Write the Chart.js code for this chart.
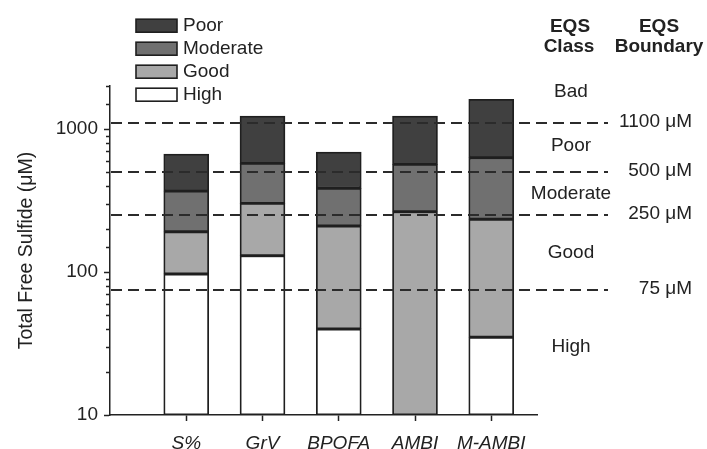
<!DOCTYPE html>
<html>
<head>
<meta charset="utf-8">
<script src="https://cdn.jsdelivr.net/npm/chart.js@4/dist/chart.umd.min.js"></script>
<style>
  html, body { margin: 0; padding: 0; background: #fff; }
  #wrap { width: 707px; height: 449px; }
</style>
</head>
<body>
<div id="wrap"><canvas id="chart" width="707" height="449"></canvas></div>
<script>
// Sulfide thresholds implied by each benthic index class (μM)
const categories = ['S%', 'GrV', 'BPOFA', 'AMBI', 'M-AMBI'];

// Upper bound of each class segment for every index (null = class not reached)
const highTop     = [97, 130, 40, null, 35];
const goodTop     = [191, 302, 210, 264, 234];
const moderateTop = [368, 575, 385, 566, 630];
const poorTop     = [668, 1233, 690, 1233, 1614];

// EQS boundaries and class names
const boundaryValues = [1100, 500, 250, 75];
const boundaryLabels = ['1100 μM', '500 μM', '250 μM', '75 μM'];
const eqsClasses     = ['Bad', 'Poor', 'Moderate', 'Good', 'High'];
const eqsClassAt     = [1820, 770, 354, 137, 30];

const AXIS_MIN = 10;
const AXIS_MAX = 2000;

const FONT = "'Liberation Sans', Arial, sans-serif";
const INK = '#222';
const EDGE = '#1f1f1f';

const classStyle = {
  High:     '#ffffff',
  Good:     '#a8a8a8',
  Moderate: '#707070',
  Poor:     '#404040'
};

// Build floating [low, high] bars from the stacked class bounds
function segment(lows, highs) {
  return categories.map((c, i) => {
    const hi = highs[i];
    if (hi == null) return { x: i + 1, y: null };
    const lo = lows ? (lows[i] == null ? AXIS_MIN : lows[i]) : AXIS_MIN;
    return { x: i + 1, y: [lo, hi] };
  });
}

function mkDataset(label, data) {
  return {
    label,
    data,
    backgroundColor: classStyle[label],
    borderColor: EDGE,
    borderWidth: 1.8,
    borderSkipped: false,
    barThickness: 45,
    grouped: false
  };
}

const datasets = [
  mkDataset('High', segment(null, highTop)),
  mkDataset('Good', segment(highTop, goodTop)),
  mkDataset('Moderate', segment(goodTop, moderateTop)),
  mkDataset('Poor', segment(moderateTop, poorTop))
];

const isDecade = v => Math.abs(Math.log10(v) - Math.round(Math.log10(v))) < 1e-9;

// Dashed EQS boundaries, minor ticks, legend and right-hand annotations
const eqsOverlay = {
  id: 'eqsOverlay',
  afterDatasetsDraw(chart) {
    const { ctx, chartArea, scales: { y } } = chart;
    ctx.save();
    ctx.strokeStyle = '#2b2b2b';
    ctx.lineWidth = 2;
    ctx.setLineDash([11, 6]);
    boundaryValues.forEach(v => {
      const py = Math.round(y.getPixelForValue(v));
      ctx.beginPath();
      ctx.moveTo(chartArea.left + 1, py);
      ctx.lineTo(608, py);
      ctx.stroke();
    });
    ctx.restore();
  },
  afterDraw(chart) {
    const { ctx, scales: { y } } = chart;
    ctx.save();

    // minor ticks on the log axis
    ctx.strokeStyle = INK;
    ctx.lineWidth = 1.5;
    y.ticks.forEach(t => {
      if (isDecade(t.value)) return;
      const py = Math.round(y.getPixelForValue(t.value)) + 0.5;
      ctx.beginPath();
      ctx.moveTo(y.right - 4, py);
      ctx.lineTo(y.right, py);
      ctx.stroke();
    });

    // legend, worst class on top
    const legendItems = datasets.slice().reverse();
    ctx.font = `19px ${FONT}`;
    ctx.textBaseline = 'middle';
    ctx.textAlign = 'left';
    legendItems.forEach((ds, i) => {
      const cy = 25.7 + i * 23;
      ctx.fillStyle = ds.backgroundColor;
      ctx.fillRect(136, cy - 6.5, 41, 13);
      ctx.strokeStyle = EDGE;
      ctx.lineWidth = 1.6;
      ctx.strokeRect(136, cy - 6.5, 41, 13);
      ctx.fillStyle = INK;
      ctx.fillText(ds.label, 183, cy);
    });

    // column headers
    ctx.font = `bold 19px ${FONT}`;
    ctx.textAlign = 'center';
    ctx.fillStyle = INK;
    ctx.fillText('EQS', 570, 27);
    ctx.fillText('Class', 569, 47);
    ctx.fillText('EQS', 659, 27);
    ctx.fillText('Boundary', 659, 47);

    // class names
    ctx.font = `19px ${FONT}`;
    eqsClasses.forEach((name, i) => {
      ctx.fillText(name, 571, y.getPixelForValue(eqsClassAt[i]));
    });

    // boundary values
    ctx.textAlign = 'right';
    boundaryLabels.forEach((lbl, i) => {
      ctx.fillText(lbl, 692, y.getPixelForValue(boundaryValues[i]) - 1);
    });

    ctx.restore();
  }
};

new Chart(document.getElementById('chart'), {
  type: 'bar',
  data: { datasets },
  options: {
    responsive: false,
    animation: false,
    devicePixelRatio: 1,
    layout: { padding: { top: 86, right: 170, left: 0, bottom: 0 } },
    plugins: {
      legend: { display: false },
      tooltip: { enabled: false }
    },
    scales: {
      x: {
        type: 'linear',
        min: 0,
        max: 5.6,
        offset: false,
        afterBuildTicks: s => { s.ticks = categories.map((c, i) => ({ value: i + 1 })); },
        afterFit: s => { s.height = 34; },
        ticks: {
          autoSkip: false,
          maxRotation: 0,
          padding: 11,
          color: INK,
          font: { family: FONT, size: 19, style: 'italic' },
          callback: v => categories[v - 1] ?? ''
        },
        grid: { drawOnChartArea: false, offset: false, tickLength: 6, tickColor: INK, tickWidth: 1.5 },
        border: { color: INK, width: 1.5 }
      },
      y: {
        type: 'logarithmic',
        min: AXIS_MIN,
        max: AXIS_MAX,
        afterFit: s => { s.width = 110; },
        title: {
          display: true,
          text: 'Total Free Sulfide (μM)',
          color: INK,
          font: { family: FONT, size: 19.5, lineHeight: 1.2 },
          padding: { top: 15, bottom: 0 }
        },
        ticks: {
          autoSkip: false,
          padding: 6,
          color: INK,
          font: { family: FONT, size: 19 },
          callback: v => isDecade(v) ? String(Math.round(v)) : ''
        },
        grid: {
          drawOnChartArea: false,
          tickLength: 6,
          tickWidth: 1.5,
          tickColor: c => (c.tick && isDecade(c.tick.value)) ? INK : 'rgba(0,0,0,0)'
        },
        border: { color: INK, width: 1.5 }
      }
    }
  },
  plugins: [eqsOverlay]
});
</script>
</body>
</html>
